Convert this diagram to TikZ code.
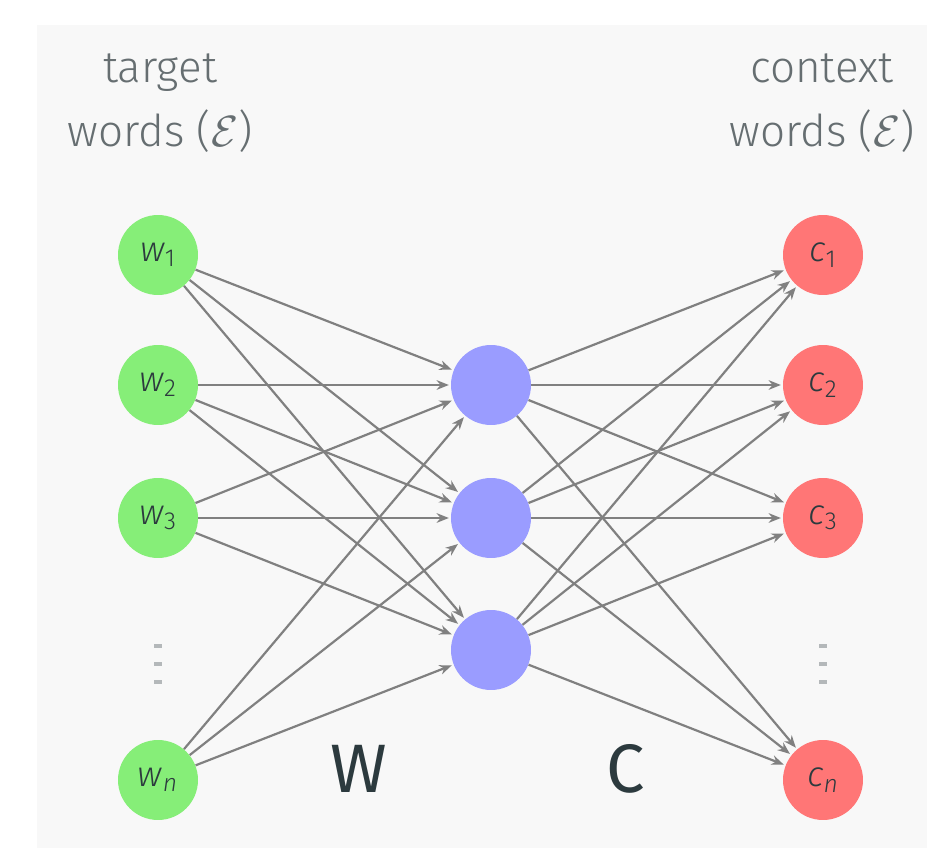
\documentclass[tikz,border=0pt]{standalone}
\usepackage{fontspec}
\setmainfont{Fira Sans}[UprightFont=* Light, ItalicFont=* Light Italic]
\newfontfamily\firareg{Fira Sans}
\usetikzlibrary{arrows.meta}
\definecolor{bgc}{HTML}{F8F8F8}
\definecolor{gnode}{HTML}{86EE78}
\definecolor{bnode}{HTML}{9A9CFF}
\definecolor{rnode}{HTML}{FF7676}
\definecolor{edgec}{HTML}{808080}
\definecolor{txtc}{HTML}{666E71}
\definecolor{dtxt}{HTML}{2C3A3E}
\definecolor{dotc}{HTML}{B4B8BA}
\tikzset{
  unit/.style={circle,minimum size=1.6cm,inner sep=0pt,font=\fontsize{20}{22}\selectfont,text=dtxt},
  inw/.style={unit,fill=gnode},
  hid/.style={unit,fill=bnode},
  outc/.style={unit,fill=rnode},
  conn/.style={draw=edgec,line width=1.25pt,-{Stealth[length=7pt,width=5.5pt]},shorten >=1pt},
  lbl/.style={font=\fontsize{25}{34}\selectfont,text=txtc,align=center},
  mat/.style={font=\firareg\fontsize{39}{40}\selectfont,text=dtxt},
  dotmark/.style={fill=dotc}
}
\begin{document}
\begin{tikzpicture}[x=0.02cm,y=-0.02cm]
\useasboundingbox[fill=white] (0,0) rectangle (927,848);
\fill[bgc] (37,25) rectangle (927,848);
% labels
\node[lbl,anchor=base] (tl1) at (160,83) {target};
\node[lbl,anchor=base] (tl2) at (160,147) {words ($\mathcal{E}$)};
\node[lbl,anchor=base] (cl1) at (822,83) {context};
\node[lbl,anchor=base] (cl2) at (822,147) {words ($\mathcal{E}$)};
% input nodes
\node[inw] (w1) at (158,255) {\textit{w}\textsubscript{1}};
\node[inw] (w2) at (158,385) {\textit{w}\textsubscript{2}};
\node[inw] (w3) at (158,518) {\textit{w}\textsubscript{3}};
\node[inw] (wn) at (158,780) {\textit{w}\textsubscript{\textit{n}}};
% hidden nodes
\node[hid] (h1) at (491,385) {};
\node[hid] (h2) at (491,518) {};
\node[hid] (h3) at (491,650) {};
% output nodes
\node[outc] (c1) at (823,255) {\textit{c}\textsubscript{1}};
\node[outc] (c2) at (823,385) {\textit{c}\textsubscript{2}};
\node[outc] (c3) at (823,518) {\textit{c}\textsubscript{3}};
\node[outc] (cn) at (823,780) {\textit{c}\textsubscript{\textit{n}}};
% vertical dots
\foreach \x in {158,823}{
  \foreach \y in {646,664,682}{
    \fill[dotmark] (\x-4,\y-2) rectangle (\x+4,\y+2);
  }
}
% connectors
\foreach \a in {w1,w2,w3,wn}{
  \foreach \b in {h1,h2,h3}{
    \draw[conn] (\a) -- (\b);
  }
}
\foreach \a in {h1,h2,h3}{
  \foreach \b in {c1,c2,c3,cn}{
    \draw[conn] (\a) -- (\b);
  }
}
% matrix labels
\node[mat,anchor=base] (W) at (359,792) {W};
\node[mat,anchor=base] (C) at (626,792) {C};
\end{tikzpicture}
\end{document}
